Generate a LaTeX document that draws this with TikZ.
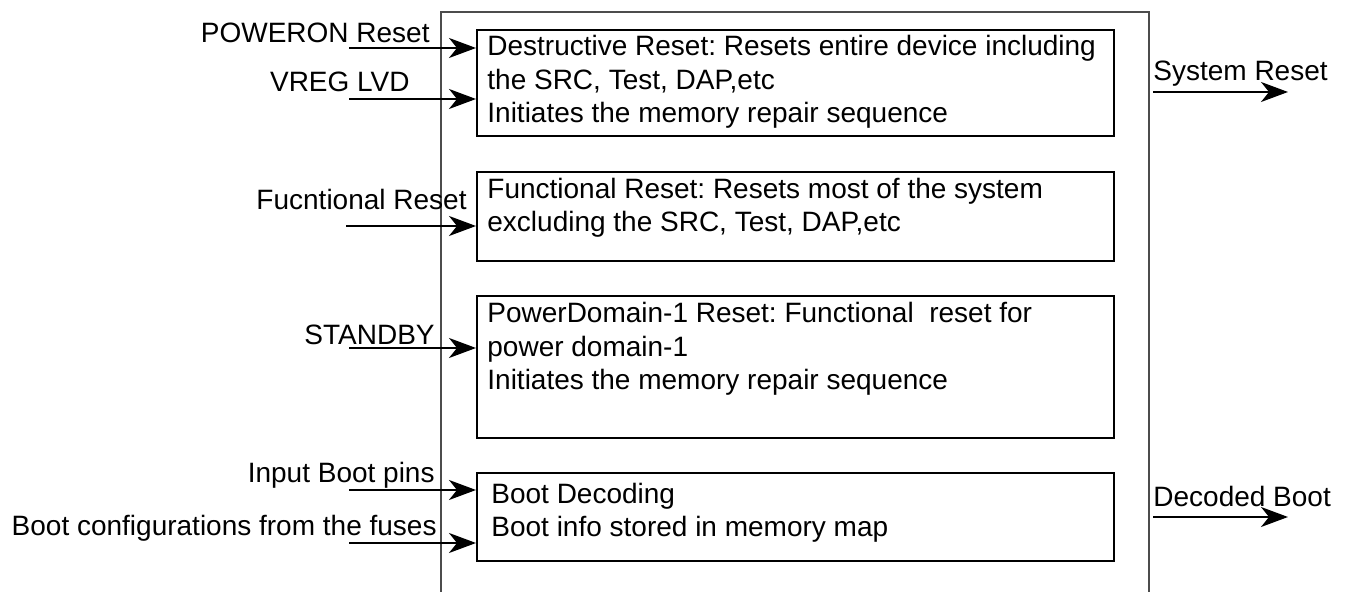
\documentclass[tikz,border=0pt]{standalone}
\usepackage{fontspec}
\setmainfont{Liberation Sans}
\usetikzlibrary{arrows.meta}
\frenchspacing
\begin{document}
\begin{tikzpicture}[x=0.5pt,y=-0.5pt,
  every node/.style={font=\frenchspacing\fontsize{14}{16.8}\selectfont, inner sep=0pt},
  blk/.style={draw, line width=1pt, minimum width=318.5pt, anchor=north west},
  txt/.style={align=left, anchor=north west},
  lbl/.style={anchor=base east},
  rlbl/.style={anchor=base west},
  sig/.style={line width=1pt, -{Stealth[length=13.5pt,width=10pt,inset=4pt]}},
  frame/.style={draw=black!70, line width=0.8pt}]
\useasboundingbox (0,0) rectangle (1357,592);
\draw[frame] (441,592) -- (441,12) -- (1149,12) -- (1149,592);

% blocks
\node[blk, minimum height=53pt] (b1) at (476,29) {};
\node[blk, minimum height=44.5pt] (b2) at (476,171) {};
\node[blk, minimum height=71pt] (b3) at (476,295) {};
\node[blk, minimum height=44pt] (b4) at (476,472) {};

% block texts
\node[txt] (t1) at (487,35) {Destructive Reset: Resets entire device including\\the SRC, Test, DAP,etc\\Initiates the memory repair sequence};
\node[txt] (t2) at (487,177.5) {Functional Reset: Resets most of the system\\excluding the SRC, Test, DAP,etc};
\node[txt] (t3) at (487,302) {PowerDomain-1 Reset: Functional\ \ reset for\\power domain-1\\Initiates the memory repair sequence};
\node[txt] (t4) at (491,482.5) {Boot Decoding\\Boot info stored in memory map};

% input labels
\node[lbl] (l1) at (430,43) {POWERON Reset};
\node[lbl] (l2) at (410,92) {VREG LVD};
\node[lbl] (l3) at (467,210) {Fucntional Reset};
\node[lbl] (l4) at (435,345) {STANDBY};
\node[lbl] (l5) at (435,483) {Input Boot pins};
\node[lbl] (l6) at (437,536) {Boot configurations from the fuses};

% output labels
\node[rlbl] (o1) at (1153,81) {System Reset};
\node[rlbl] (o2) at (1153,507) {Decoded Boot};

% input arrow starts
\coordinate (s1) at (349,48);
\coordinate (s2) at (349,99);
\coordinate (s3) at (346,226);
\coordinate (s4) at (349,348);
\coordinate (s5) at (349,490);
\coordinate (s6) at (349,543);
\draw[sig] (s1) -- (b1.west |- s1);
\draw[sig] (s2) -- (b1.west |- s2);
\draw[sig] (s3) -- (b2.west |- s3);
\draw[sig] (s4) -- (b3.west |- s4);
\draw[sig] (s5) -- (b4.west |- s5);
\draw[sig] (s6) -- (b4.west |- s6);

% outputs
\coordinate (e1) at (1288,92);
\coordinate (e2) at (1288,517);
\draw[sig] (1153,92) -- (e1);
\draw[sig] (1153,517) -- (e2);
\end{tikzpicture}
\end{document}
